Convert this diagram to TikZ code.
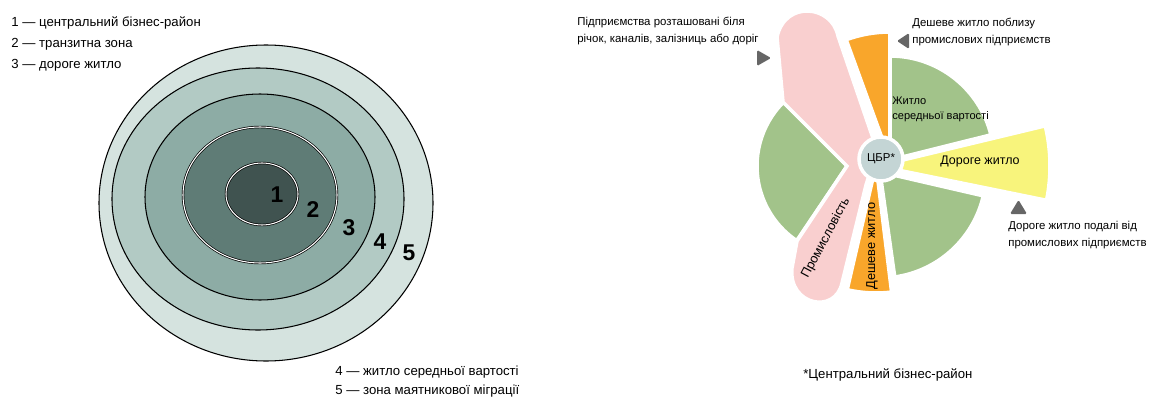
\documentclass[tikz,border=0pt]{standalone}
\usepackage{fontspec}
\setmainfont{Liberation Sans}
\definecolor{ringone}{HTML}{405350}
\definecolor{ringtwo}{HTML}{5F7C76}
\definecolor{ringthree}{HTML}{8DACA5}
\definecolor{ringfour}{HTML}{B2CAC4}
\definecolor{ringfive}{HTML}{D5E3DF}
\definecolor{midgreen}{HTML}{A2C38A}
\definecolor{cheaporange}{HTML}{F9A62B}
\definecolor{richyellow}{HTML}{F8F47C}
\definecolor{industrypink}{HTML}{F9CFCF}
\definecolor{cbrgray}{HTML}{C4D5D5}
\definecolor{markgray}{HTML}{666666}

\begin{document}
\begin{tikzpicture}[x=0.02cm, y=0.02cm,
    ring/.style={draw=black, line width=0.6pt},
    innerring/.style={draw=black, line width=0.4pt, double=white, double distance=0.6pt},
    digit/.style={font=\fontsize{13}{13}\selectfont\bfseries, inner sep=0pt},
    legend/.style={font=\fontsize{7.5}{11.9}\selectfont, align=left, anchor=west, inner sep=0pt},
    note/.style={font=\fontsize{6.5}{9.6}\selectfont, align=left, anchor=west, inner sep=0pt},
    zone/.style={draw=white, line width=2pt},
    label/.style={font=\fontsize{7.3}{9}\selectfont, inner sep=0pt},
    marker/.style={fill=markgray, rounded corners=0.8pt}]
\useasboundingbox (0,0) rectangle (1154,-396);

% concentric model
\filldraw[ring, fill=ringfive] (266,-203) ellipse [x radius=167, y radius=158];
\filldraw[ring, fill=ringfour] (258,-199) ellipse [x radius=146, y radius=131];
\filldraw[ring, fill=ringthree] (260,-197) ellipse [x radius=115, y radius=103];
\filldraw[innerring, fill=ringtwo] (260,-195) ellipse [x radius=77, y radius=68];
\filldraw[innerring, fill=ringone] (262,-194) ellipse [x radius=36, y radius=31];

\node[digit] (d1) at (277,-195) {1};
\node[digit] (d2) at (313,-210) {2};
\node[digit] (d3) at (349,-228) {3};
\node[digit] (d4) at (380,-242) {4};
\node[digit] (d5) at (409,-253) {5};

\node[legend] (keytop) at (11,-44) {1 — центральний бізнес-район\\2 — транзитна зона\\3 — дороге житло};
\node[legend, font=\fontsize{7.5}{10.8}\selectfont] (keybottom) at (335,-381.5) {4 — житло середньої вартості\\5 — зона маятникової міграції};

% sector model
\filldraw[zone, fill=midgreen] (847,-166) -- ++(135:90) arc[start angle=135, end angle=236, radius=90] -- cycle;
\filldraw[zone, fill=midgreen] (890,-160) -- ++(14:104) arc[start angle=14, end angle=90, radius=104] -- cycle;
\filldraw[zone, fill=midgreen] (880,-172) -- ++(-82:106) arc[start angle=-82, end angle=-13, radius=106] -- cycle;
\filldraw[zone, fill=richyellow] (878,-166) -- ++(-11.5:172) arc[start angle=-11.5, end angle=13.5, radius=172] -- cycle;
\filldraw[zone, fill=cheaporange] (890,-160) -- ++(90:128) arc[start angle=90, end angle=110, radius=128] -- cycle;
\filldraw[zone, fill=cheaporange] (876,-165) -- ++(-103:128) arc[start angle=-103, end angle=-83, radius=128] -- cycle;
\filldraw[zone, fill=industrypink] (877,-150) -- (838,-36)
    .. controls (832,-5) and (785,0) .. (777,-37) -- (783,-102) -- (847,-166) -- (797,-241) -- (792,-268)
    .. controls (788,-305) and (835,-315) .. (842,-283) -- (866,-185) -- cycle;
\node[zone, circle, fill=cbrgray, minimum size=0.88cm, inner sep=0pt, font=\fontsize{6.5}{8}\selectfont] (cbr) at (881,-159) {ЦБР*};

\node[note, font=\fontsize{6.3}{8.5}\selectfont] (middle) at (892,-109.5) {Житло\\середньої вартості};
\node[label, font=\fontsize{7.1}{9}\selectfont] (rich) at (980,-162) {Дороге житло};
\node[label, rotate=62] (industry) at (826,-238) {Промисловість};
\node[label, rotate=90] (cheap) at (872,-246) {Дешеве житло};

\node[note] (noteriver) at (577,-31) {Підприємства розташовані біля\\річок, каналів, залізниць або доріг};
\node[note] (notecheap) at (912,-32) {Дешеве житло поблизу\\промислових підприємств};
\node[note] (noterich) at (1008,-235) {Дороге житло подалі від\\промислових підприємств};
\node[legend] (footnote) at (803,-375) {*Центральний бізнес-район};

\fill[marker] (757,-50) -- (757,-66) -- (771,-58) -- cycle;
\fill[marker] (909,-33) -- (909,-49) -- (897,-41) -- cycle;
\fill[marker] (1010,-214) -- (1027,-214) -- (1018.5,-200) -- cycle;
\end{tikzpicture}
\end{document}
